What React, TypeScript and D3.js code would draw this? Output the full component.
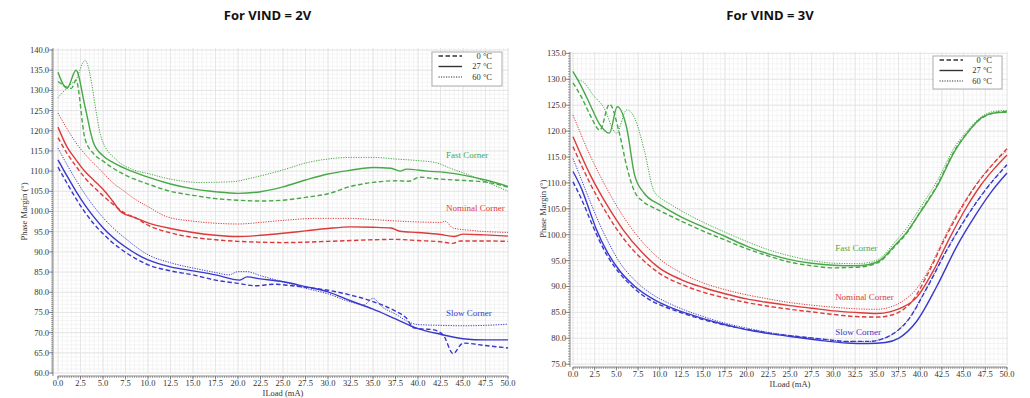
import React from 'react';
import * as d3 from 'd3';

type Pt = [number, number];

// ---------- tick labels ----------
const xTickValues = [0, 2.5, 5, 7.5, 10, 12.5, 15, 17.5, 20, 22.5, 25, 27.5, 30, 32.5, 35, 37.5, 40, 42.5, 45, 47.5, 50];
const yTicks2V = [60, 65, 70, 75, 80, 85, 90, 95, 100, 105, 110, 115, 120, 125, 130, 135, 140];
const yTicks3V = [75, 80, 85, 90, 95, 100, 105, 110, 115, 120, 125, 130, 135];
const legendLabels = ['0 °C', '27 °C', '60 °C'];
const titles = ['For VIND = 2V', 'For VIND = 3V'];
const cornerNames = ['Fast Corner', 'Nominal Corner', 'Slow Corner'];

// ---------- VIND = 2V ----------
const v2_fast_0: Pt[] = [[0,132.2],[1,130.8],[1.5,130.5],[2,132.5],[3,118],[4,114.2],[5,112.5],[6,110.9],[7.5,109],[10,106.8],[12.5,105],[15,104],[17.5,103.2],[20,102.8],[22.5,102.6],[25,102.8],[27.5,103.5],[30,104.4],[32.5,106.2],[35,107.2],[37.5,107.6],[39,107.5],[40.2,108.5],[42,108.1],[44,107.8],[47.5,107.3],[50,106]];
const v2_fast_27: Pt[] = [[0,134.5],[1,130.5],[2,135],[3,126],[3.9,117.3],[5,113.8],[6,112.3],[7.5,110.6],[10,108.5],[12.5,106.8],[15,105.6],[17.5,104.9],[20,104.5],[22.5,104.9],[25,106.1],[27.5,107.8],[30,109.3],[32.5,110.2],[35,110.9],[37,110.7],[38,110],[38.7,110.5],[41,110],[43,109.7],[45,109],[47.5,107.8],[50,106.2]];
const v2_fast_60: Pt[] = [[0,128.2],[1.3,131.3],[2,132.7],[3,137.4],[4.85,118],[6.5,112.8],[8.4,110.3],[10,109.4],[12.1,108.2],[15.8,107.2],[19.5,107.4],[21.3,108.2],[25,110.3],[27.5,112],[30,113],[32.5,113.4],[35,113.4],[37.5,113],[40,112.6],[42,112.1],[43.6,110.7],[45,109.6],[47.5,107.4],[50,105]];

const v2_nom_0: Pt[] = [[0,118.3],[1,114.4],[2,111.2],[3,108.3],[4,106],[5,103.9],[6,102],[7.5,99.5],[8.5,98.6],[10,96.6],[12.5,94.7],[15,93.6],[17.5,93],[20,92.6],[22.5,92.4],[25,92.3],[27.5,92.4],[30,92.6],[32.5,92.8],[35,93],[37.5,93.1],[40,92.8],[42.5,92.5],[43.9,92.1],[44.7,92.7],[47.5,92.7],[50,92.6]];
const v2_nom_27: Pt[] = [[0,120.9],[1,116],[2,112.8],[3,109.9],[4,107.7],[5,105.5],[6,102.8],[7,99.9],[8.5,98.5],[10,97.2],[12.5,95.8],[15,94.8],[17.5,94.1],[20,93.8],[22.5,94.1],[25,94.6],[27.5,95.2],[30,95.8],[32.5,96.2],[35,96.1],[37,95.9],[38,95.1],[40,94.8],[42.5,94.3],[44,93.8],[45,94.4],[47.5,94.2],[50,93.9]];
const v2_nom_60: Pt[] = [[0,124.4],[1,120.5],[2,117],[3,114.2],[4.7,110.3],[6,107.3],[7.5,104.8],[8.4,103.3],[10,101.2],[12.1,98.7],[15,97.6],[17.5,97.1],[20,96.9],[22.5,97.3],[25,97.8],[28.7,98.3],[32.5,98.3],[35,98],[38,97.6],[42.6,97.3],[43,97.6],[43.9,95.9],[46,95.3],[50,94.8]];

const v2_slow_0: Pt[] = [[0,111],[1,107],[2,103.2],[3,99.8],[4,96.9],[5,94.5],[6,92.4],[7.5,89.9],[10,86.8],[12.5,85.3],[15,84.3],[17.5,83],[20,82.2],[22,81.6],[24,82],[26,81.6],[28,81.1],[30,80.5],[32.5,79.3],[35,77.7],[37.5,75.3],[38.7,73.6],[39.5,71.2],[40.5,70.9],[41.5,70.8],[42.8,69.4],[43.9,64.8],[45,67.4],[47.5,66.8],[50,66.2]];
const v2_slow_27: Pt[] = [[0,112.8],[1,108.8],[2,105],[3,101.6],[4,98.6],[5,96],[6,93.8],[7.5,91.2],[10,88],[12.5,86.3],[15,85.3],[17.5,84.3],[20.2,83],[21,83.8],[22.5,83.3],[25,82.6],[27.5,81.4],[30,80.1],[32.5,77.9],[35,75.8],[37.5,73.4],[40,71],[42.5,69.6],[45,68.5],[47.5,68.2],[50,68.2]];
const v2_slow_60: Pt[] = [[0,115.7],[1,111.6],[2,107.8],[3,104.3],[4,101.2],[5,98.5],[6,96.2],[7.5,93.3],[10,89.3],[12.5,87.3],[15,86],[17.5,84.9],[19,84.3],[20,85.1],[21,85.1],[22.5,84.1],[25,82.6],[27.5,81],[30,79.6],[32.5,77.6],[34,76.9],[35,78.5],[36,76.4],[37.5,74.6],[39,72.6],[40,72],[42.5,71.8],[45,71.7],[47.5,71.8],[50,72.1]];

// ---------- VIND = 3V ----------
const v3_fast_0: Pt[] = [[0,129.3],[1,126.5],[2,123],[3.1,120.2],[4.2,125.2],[5.4,119.2],[6.2,113.1],[7.1,108.3],[8,106.5],[9.3,105.2],[11,103.8],[12.5,102.6],[15,100.7],[17.5,99],[20,97.3],[22.5,95.9],[25,94.7],[27.5,94],[30,93.6],[32.5,93.7],[34,94],[35.5,95],[37,97.6],[38.5,100.4],[40,104.4],[42,109.7],[44,116.4],[45.5,119.8],[47,122.4],[48.5,123.5],[50,123.8]];
const v3_fast_27: Pt[] = [[0,131.5],[1,128.5],[2,125],[3,121.5],[4.2,119.6],[5.1,124.7],[6.2,120.5],[7.1,111.5],[8.2,108],[10,105.8],[12.5,103.4],[15,101.5],[17.5,99.7],[20,97.8],[22.5,96.3],[25,95.2],[27.5,94.5],[30,94.1],[32.5,94],[34,94.2],[35.5,95.2],[37,97.8],[38.5,100.6],[40,104.3],[42,109.5],[44,116.2],[45.5,119.8],[47,122.5],[48.5,123.5],[50,123.7]];
const v3_fast_60: Pt[] = [[0,131.5],[0.6,129.9],[1.2,129.5],[2.3,127],[3.5,124.7],[5,119.6],[6.2,124.1],[7.1,122.5],[8.2,116.4],[9.3,108.5],[10,107.2],[11.2,105.9],[12.5,104.6],[15,102.4],[17.5,100.5],[20,98.7],[22.5,97.1],[25,95.9],[27.5,95],[30,94.5],[32.5,94.4],[34,94.6],[35.5,95.6],[37,98.4],[38.5,101.4],[40,105.2],[42,110.5],[44,117],[45.5,120.2],[47,122.7],[48.5,123.8],[50,124]];

const v3_nom_0: Pt[] = [[0,117],[2,109.8],[4,103.8],[5.8,99.3],[8,95.2],[10,92.5],[12.5,90.4],[15,88.9],[17.5,87.8],[20,86.9],[22.5,86.2],[25,85.6],[27.5,85.1],[30,84.6],[32.5,84.2],[35,84.1],[36.5,84.4],[38,85.5],[39,87],[40.9,92.5],[42.8,99.1],[44.7,105],[46.4,109.5],[48,112.9],[50,116.6]];
const v3_nom_27: Pt[] = [[0,118.9],[2,111.5],[4,105.5],[5.8,100.9],[8,96.5],[10,93.5],[12.5,91.3],[15,89.8],[17.5,88.6],[20,87.6],[22.5,86.9],[25,86.3],[27.5,85.8],[30,85.3],[32.5,85],[35,84.8],[36.5,85.1],[38,86],[39.6,87.9],[41.5,93],[43.4,99.4],[45.3,105.2],[47,109.6],[48.5,112.7],[50,115.4]];
const v3_nom_60: Pt[] = [[0,123.1],[2,115.2],[4,108.6],[5.8,103.5],[8,98.6],[10,95.3],[12.5,92.6],[15,90.7],[17.5,89.4],[20,88.4],[22.5,87.6],[25,86.9],[27.5,86.4],[30,86],[32.5,85.7],[35,85.6],[36.5,86],[38,87.2],[39.5,89.4],[41,93.3],[42.8,99.5],[44.7,105.3],[46.4,109.6],[48,113],[50,116.2]];

const v3_slow_0: Pt[] = [[0,110.2],[1,106.8],[2,102.8],[3,99],[4,95.8],[5.4,92.5],[7,89.7],[9.3,87],[11,85.8],[13.1,84.6],[15,83.6],[16.9,82.8],[18.8,82.1],[20.8,81.5],[23,80.9],[26.2,80.3],[29,79.8],[31.5,79.4],[34,79.4],[35.5,79.8],[37,81],[38.6,83.5],[40.7,89.5],[43,96.8],[45.3,103.3],[47.6,108.8],[50,113.5]];
const v3_slow_27: Pt[] = [[0,112.2],[1,108.8],[2,104.2],[2.7,101],[4,96.5],[5.4,93],[7,90.2],[9.3,87.5],[11,86.1],[13.1,84.8],[15,83.8],[16.9,82.9],[18.8,82.1],[20.8,81.4],[23,80.8],[26.2,80.1],[29,79.5],[31.5,79.1],[34,79],[36,79.2],[37.5,80],[39.6,83.3],[41.9,90],[44.2,97.7],[46.5,104.1],[48.3,108.5],[50,111.9]];
const v3_slow_60: Pt[] = [[0,114.7],[1,110.5],[2,106.3],[3,102.3],[4,98.8],[5.4,94.6],[7,91.4],[9.3,88.3],[11,86.8],[13.1,85.3],[15,84.2],[16.9,83.2],[18.8,82.4],[20.8,81.7],[23,81],[26.2,80.3],[29,79.8],[31.5,79.4],[34,79.4],[35.5,79.8],[37,81],[38.6,83.6],[40.7,89.6],[43,96.9],[45.3,103.4],[47.6,108.9],[50,113.6]];

// corner label anchor points (x in mA, y in degrees)
const v2_labelPos: Pt[] = [[43.1, 114], [43.1, 100.9], [43.1, 74.9]];
const v3_labelPos: Pt[] = [[30.2, 97.4], [30.2, 88.0], [30.2, 81.2]];

const GREEN = '#48a848';
const RED = '#dc3b3b';
const BLUE = '#3838cc';
const cornerColors = [GREEN, RED, BLUE];

type Style = 'dash' | 'solid' | 'dot';
interface Series { data: Pt[]; color: string; style: Style }

const styleAttrs = (s: Style) => {
  if (s === 'dash') return { strokeWidth: 1.4, strokeDasharray: '4.5,2.5' };
  if (s === 'dot') return { strokeWidth: 1.0, strokeDasharray: '1.2,1.3' };
  return { strokeWidth: 1.4, strokeDasharray: undefined };
};

interface Cfg {
  x0: number; x1: number; yMin: number; yMax: number; yBot: number; yTop: number;
  axisX: number; axisY: number; gridL: number; gridR: number; gridT: number; gridB: number;
  titleX: number; legend: { x: number; y: number; w: number; h: number };
  yLabelX: number; yTicks: number[];
}

function Chart({ cfg, series, labelPos, title }: { cfg: Cfg; series: Series[]; labelPos: Pt[]; title: string }) {
  const x = d3.scaleLinear().domain([0, 50]).range([cfg.x0, cfg.x1]);
  const y = d3.scaleLinear().domain([cfg.yMin, cfg.yMax]).range([cfg.yBot, cfg.yTop]);
  const line = d3.line<Pt>().x(d => x(d[0])).y(d => y(d[1])).curve(d3.curveMonotoneX);

  const xMinor = d3.range(0, 50.001, 0.5);
  const yMinor = d3.range(cfg.yMin, cfg.yMax + 0.001, 1);
  const xAxisMinor = d3.range(0, 50.001, 0.25);
  const yAxisMinor = d3.range(cfg.yMin, cfg.yMax + 0.001, 0.5);
  const axisColor = '#6a6a6a';
  const font = 'Liberation Serif, Times New Roman, serif';
  const lg = cfg.legend;
  const legendStyles: Style[] = ['dash', 'solid', 'dot'];

  return (
    <g>
      <text x={cfg.titleX} y={20} textAnchor="middle" fontFamily="Open Sans, sans-serif" fontWeight={700} fontSize={13} fill="#111">{title}</text>
      <rect x={cfg.gridL} y={cfg.gridT} width={cfg.gridR - cfg.gridL} height={cfg.gridB - cfg.gridT} fill="#ffffff" />
      {xMinor.map((v, i) => <line key={'xm' + i} x1={x(v)} x2={x(v)} y1={cfg.gridT} y2={cfg.gridB} stroke="#f1f1f1" strokeWidth={0.8} />)}
      {yMinor.map((v, i) => <line key={'ym' + i} x1={cfg.gridL} x2={cfg.gridR} y1={y(v)} y2={y(v)} stroke="#f1f1f1" strokeWidth={0.8} />)}
      {xTickValues.map((v, i) => <line key={'xg' + i} x1={x(v)} x2={x(v)} y1={cfg.gridT} y2={cfg.gridB} stroke="#e2e2e2" strokeWidth={0.8} />)}
      {cfg.yTicks.map((v, i) => <line key={'yg' + i} x1={cfg.gridL} x2={cfg.gridR} y1={y(v)} y2={y(v)} stroke="#e2e2e2" strokeWidth={0.8} />)}

      {/* y axis */}
      <line x1={cfg.axisX} x2={cfg.axisX} y1={cfg.gridT} y2={cfg.axisY} stroke={axisColor} strokeWidth={0.8} />
      {yAxisMinor.map((v, i) => <line key={'yt' + i} x1={cfg.axisX - 2} x2={cfg.axisX} y1={y(v)} y2={y(v)} stroke={axisColor} strokeWidth={0.6} />)}
      {cfg.yTicks.map((v, i) => (
        <g key={'yl' + i}>
          <line x1={cfg.axisX - 4} x2={cfg.axisX} y1={y(v)} y2={y(v)} stroke={axisColor} strokeWidth={0.8} />
          <text x={cfg.axisX - 4} y={y(v)} dy="0.35em" textAnchor="end" fontFamily={font} fontSize={8.5} fill="#333">{v.toFixed(1)}</text>
        </g>
      ))}
      <text transform={`translate(${cfg.yLabelX},${(cfg.yTop + cfg.yBot) / 2}) rotate(-90)`} textAnchor="middle" dy="0.35em" fontFamily={font} fontSize={8.5} fill="#333">Phase Margin (°)</text>

      {/* x axis */}
      <line x1={cfg.x0} x2={cfg.x1} y1={cfg.axisY} y2={cfg.axisY} stroke={axisColor} strokeWidth={0.8} />
      {xAxisMinor.map((v, i) => <line key={'xt' + i} x1={x(v)} x2={x(v)} y1={cfg.axisY} y2={cfg.axisY + 2} stroke={axisColor} strokeWidth={0.6} />)}
      {xTickValues.map((v, i) => (
        <g key={'xl' + i}>
          <line x1={x(v)} x2={x(v)} y1={cfg.axisY} y2={cfg.axisY + 3.5} stroke={axisColor} strokeWidth={0.8} />
          <text x={x(v)} y={cfg.axisY + 7.5} dy="0.35em" textAnchor="middle" fontFamily={font} fontSize={8.5} fill="#333">{v.toFixed(1)}</text>
        </g>
      ))}
      <text x={(cfg.x0 + cfg.x1) / 2} y={cfg.axisY + 17} dy="0.35em" textAnchor="middle" fontFamily={font} fontSize={8.5} fill="#333">ILoad (mA)</text>

      {/* series */}
      {series.map((s, i) => {
        const a = styleAttrs(s.style);
        return <path key={'s' + i} d={line(s.data) || ''} fill="none" stroke={s.color} strokeWidth={a.strokeWidth} strokeDasharray={a.strokeDasharray} strokeLinejoin="round" />;
      })}

      {/* corner labels */}
      {labelPos.map((p, i) => (
        <text key={'cl' + i} x={x(p[0])} y={y(p[1])} dy="0.35em" fontFamily={font} fontSize={9} fill={cornerColors[i]}>{cornerNames[i]}</text>
      ))}

      {/* legend */}
      <rect x={lg.x} y={lg.y} width={lg.w} height={lg.h} fill="#ffffff" stroke="#9a9a9a" strokeWidth={0.8} />
      {legendLabels.map((t, i) => {
        const a = styleAttrs(legendStyles[i]);
        const ry = lg.y + 4 + i * 10.5;
        return (
          <g key={'lg' + i}>
            <line x1={lg.x + 6.5} x2={lg.x + 30} y1={ry} y2={ry} stroke="#333" strokeWidth={a.strokeWidth} strokeDasharray={a.strokeDasharray} />
            <text x={lg.x + lg.w - 10} y={ry} dy="0.35em" textAnchor="end" fontFamily={font} fontSize={8.5} fill="#333">{t}</text>
          </g>
        );
      })}
    </g>
  );
}

const cfg2V: Cfg = {
  x0: 58, x1: 508, yMin: 60, yMax: 140, yBot: 373, yTop: 50,
  axisX: 53, axisY: 376, gridL: 54, gridR: 509, gridT: 48, gridB: 373,
  titleX: 267.5, legend: { x: 432, y: 52, w: 70, h: 34 }, yLabelX: 24, yTicks: yTicks2V,
};
const cfg3V: Cfg = {
  x0: 573, x1: 1007, yMin: 75, yMax: 135, yBot: 364.2, yTop: 53.4,
  axisX: 570, axisY: 367, gridL: 571, gridR: 1008, gridT: 52, gridB: 364.2,
  titleX: 770, legend: { x: 933, y: 56, w: 69, h: 33 }, yLabelX: 543, yTicks: yTicks3V,
};

const series2V: Series[] = [
  { data: v2_fast_0, color: GREEN, style: 'dash' },
  { data: v2_fast_27, color: GREEN, style: 'solid' },
  { data: v2_fast_60, color: GREEN, style: 'dot' },
  { data: v2_nom_0, color: RED, style: 'dash' },
  { data: v2_nom_27, color: RED, style: 'solid' },
  { data: v2_nom_60, color: RED, style: 'dot' },
  { data: v2_slow_0, color: BLUE, style: 'dash' },
  { data: v2_slow_27, color: BLUE, style: 'solid' },
  { data: v2_slow_60, color: BLUE, style: 'dot' },
];
const series3V: Series[] = [
  { data: v3_fast_0, color: GREEN, style: 'dash' },
  { data: v3_fast_27, color: GREEN, style: 'solid' },
  { data: v3_fast_60, color: GREEN, style: 'dot' },
  { data: v3_nom_0, color: RED, style: 'dash' },
  { data: v3_nom_27, color: RED, style: 'solid' },
  { data: v3_nom_60, color: RED, style: 'dot' },
  { data: v3_slow_0, color: BLUE, style: 'dash' },
  { data: v3_slow_27, color: BLUE, style: 'solid' },
  { data: v3_slow_60, color: BLUE, style: 'dot' },
];

export default function App() {
  return (
    <svg width={1030} height={398} viewBox="0 0 1030 398" style={{ position: 'absolute', left: 0, top: 0, background: '#ffffff' }}>
      <rect x={0} y={0} width={1030} height={398} fill="#ffffff" />
      <Chart cfg={cfg2V} series={series2V} labelPos={v2_labelPos} title={titles[0]} />
      <Chart cfg={cfg3V} series={series3V} labelPos={v3_labelPos} title={titles[1]} />
    </svg>
  );
}
